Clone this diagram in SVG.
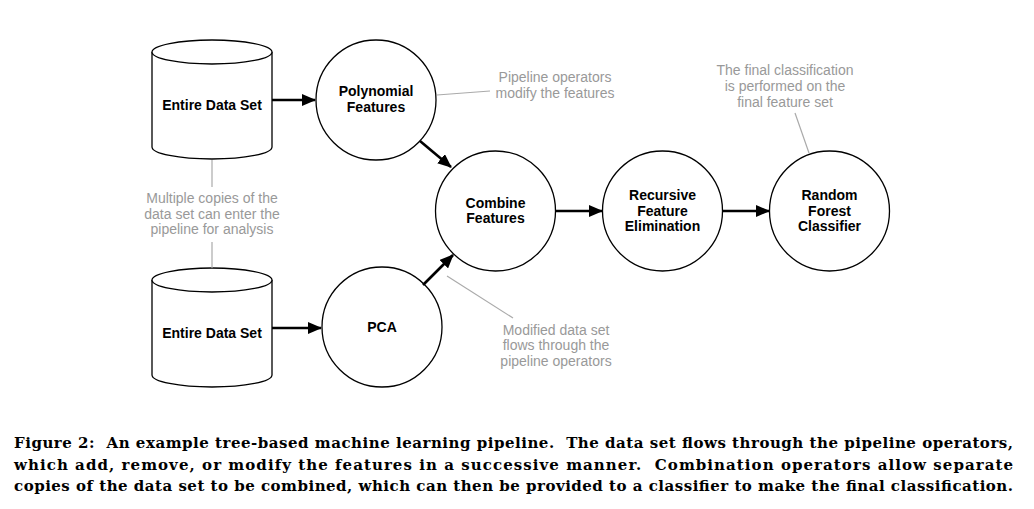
<svg xmlns="http://www.w3.org/2000/svg" width="1034" height="509" viewBox="0 0 1034 509">
<style>
.node{fill:#fff;stroke:#000;stroke-width:1.3}
.lbl{font-family:"Liberation Sans",Arial,sans-serif;font-weight:bold;font-size:14px;fill:#000;text-anchor:middle}
.note{font-family:"Liberation Sans",Arial,sans-serif;font-size:14px;fill:#999;text-anchor:middle}
.lead{stroke:#aaa;stroke-width:1.2;fill:none}
.edge{stroke:#000;stroke-width:2.6;fill:none;marker-end:url(#ah)}
.cap{font-family:"DejaVu Serif","Liberation Serif",serif;font-weight:bold;font-size:15px;fill:#000}
</style>
<defs>
<marker id="ah" markerUnits="userSpaceOnUse" markerWidth="14" markerHeight="12" refX="13" refY="6" orient="auto">
<path d="M0,0 L14,6 L0,12 Z" fill="#000"/>
</marker>
</defs>
<rect width="1034" height="509" fill="#fff"/>

<g id="data1">
<path class="node" d="M152,52 L152,147 A60,12 0 0 0 272,147 L272,52"/>
<ellipse class="node" cx="212" cy="52" rx="60" ry="12"/>
<text class="lbl" x="212" y="110">Entire Data Set</text>
</g>
<g id="data2">
<path class="node" d="M152,280 L152,375 A60,12 0 0 0 272,375 L272,280"/>
<ellipse class="node" cx="212" cy="280" rx="60" ry="12"/>
<text class="lbl" x="212" y="338">Entire Data Set</text>
</g>
<g id="poly">
<circle class="node" cx="376" cy="100" r="60"/>
<text class="lbl" x="376" y="96">Polynomial</text>
<text class="lbl" x="376" y="112">Features</text>
</g>
<g id="pca">
<circle class="node" cx="382" cy="327" r="60"/>
<text class="lbl" x="382" y="332">PCA</text>
</g>
<g id="combine">
<circle class="node" cx="495.5" cy="211" r="60"/>
<text class="lbl" x="495.5" y="208">Combine</text>
<text class="lbl" x="495.5" y="223">Features</text>
</g>
<g id="rfe">
<circle class="node" cx="662.5" cy="211" r="60"/>
<text class="lbl" x="662.5" y="200">Recursive</text>
<text class="lbl" x="662.5" y="216">Feature</text>
<text class="lbl" x="662.5" y="231">Elimination</text>
</g>
<g id="rf">
<circle class="node" cx="829.5" cy="211" r="60"/>
<text class="lbl" x="829.5" y="200">Random</text>
<text class="lbl" x="829.5" y="216">Forest</text>
<text class="lbl" x="829.5" y="231">Classifier</text>
</g>

<g id="connectors">
<line class="edge" x1="272" y1="100" x2="315" y2="100"/>
<line class="edge" x1="272" y1="328" x2="321" y2="328"/>
<line class="edge" x1="420" y1="141" x2="451" y2="167"/>
<line class="edge" x1="423" y1="285" x2="453" y2="255"/>
<line class="edge" x1="555.5" y1="211" x2="602" y2="211"/>
<line class="edge" x1="722.5" y1="211" x2="769" y2="211"/>
</g>

<g id="notes">
<line class="lead" x1="212" y1="160" x2="212" y2="187"/>
<line class="lead" x1="212" y1="242" x2="212" y2="268"/>
<text class="note" x="212" y="203">Multiple copies of the</text>
<text class="note" x="212" y="219">data set can enter the</text>
<text class="note" x="212" y="234">pipeline for analysis</text>

<line class="lead" x1="437" y1="95" x2="490" y2="91"/>
<text class="note" x="555" y="82">Pipeline operators</text>
<text class="note" x="555" y="98">modify the features</text>

<line class="lead" x1="795" y1="113" x2="809" y2="153"/>
<text class="note" x="785" y="75">The final classification</text>
<text class="note" x="785" y="91">is performed on the</text>
<text class="note" x="785" y="107">final feature set</text>

<line class="lead" x1="447" y1="276" x2="513" y2="318"/>
<text class="note" x="556" y="335">Modified data set</text>
<text class="note" x="556" y="350">flows through the</text>
<text class="note" x="556" y="366">pipeline operators</text>
</g>

<g id="caption">
<text class="cap" xml:space="preserve" x="14" y="448" textLength="999" lengthAdjust="spacing">Figure 2:  An example tree-based machine learning pipeline.  The data set flows through the pipeline operators,</text>
<text class="cap" xml:space="preserve" x="14" y="470" textLength="999" lengthAdjust="spacing">which add, remove, or modify the features in a successive manner.  Combination operators allow separate</text>
<text class="cap" xml:space="preserve" x="14" y="491" textLength="999" lengthAdjust="spacing">copies of the data set to be combined, which can then be provided to a classifier to make the final classification.</text>
</g>
</svg>
